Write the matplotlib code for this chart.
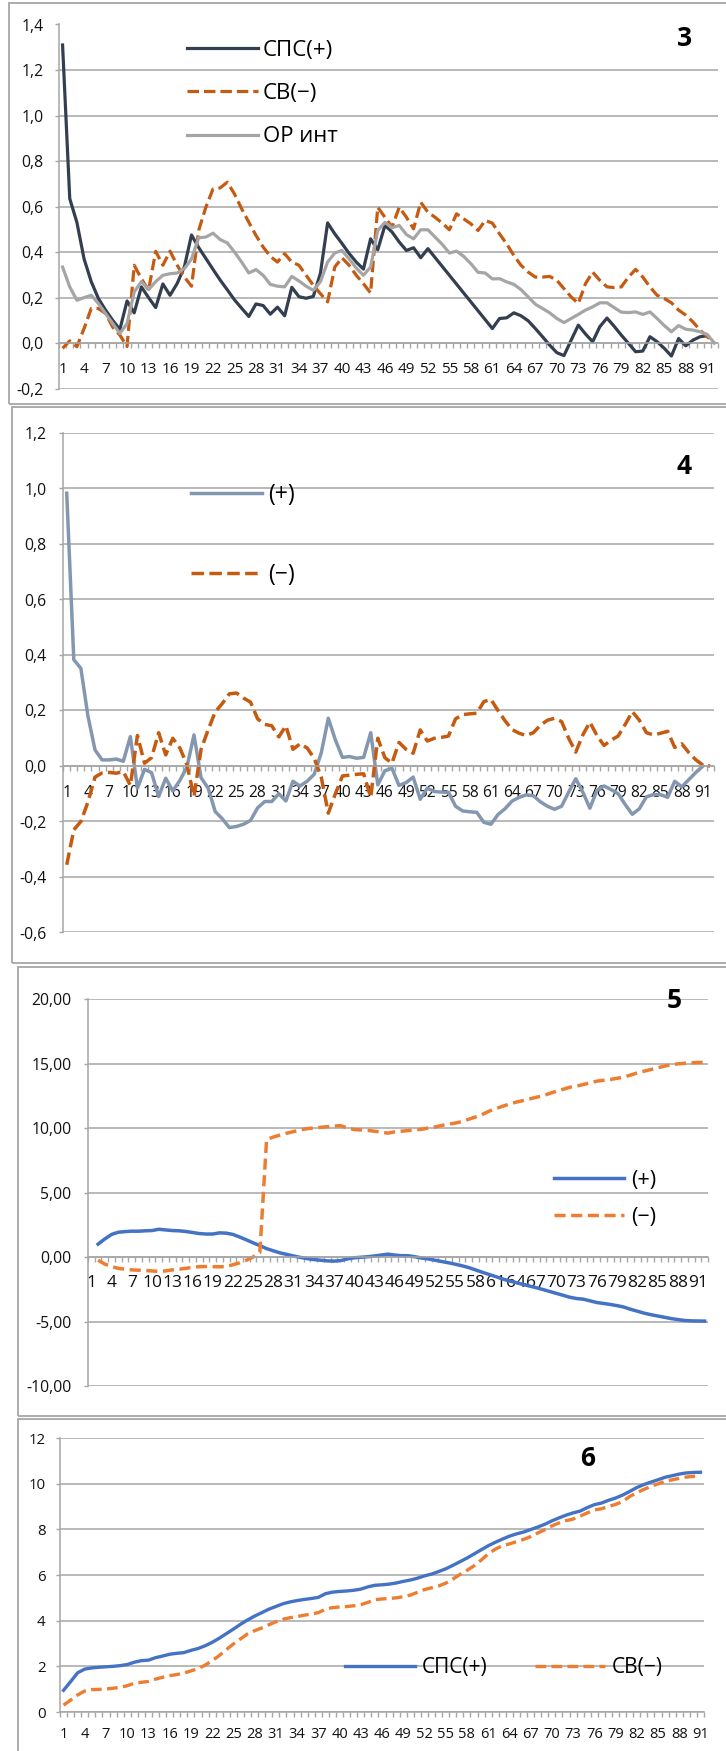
import matplotlib
matplotlib.use('Agg')
import matplotlib.pyplot as plt
import numpy as np
from matplotlib.patches import Rectangle
from matplotlib.ticker import FuncFormatter

plt.rcParams['font.family'] = ['Open Sans', 'DejaVu Sans']

nan = np.nan

# ---- chart 3 (92 days) ----
p3_sps = [1.31, 0.635, 0.53, 0.37, 0.27, 0.196, 0.145, 0.10, 0.06, 0.185,
          0.133, 0.247, 0.20, 0.156, 0.26, 0.21, 0.262, 0.335, 0.475, 0.42,
          0.372, 0.324, 0.277, 0.234, 0.19, 0.153, 0.117, 0.172, 0.165, 0.127,
          0.158, 0.12, 0.245, 0.204, 0.197, 0.205, 0.307, 0.528, 0.48, 0.438,
          0.394, 0.356, 0.325, 0.458, 0.41, 0.517, 0.488, 0.444, 0.407, 0.419,
          0.375, 0.415, 0.376, 0.337, 0.298, 0.259, 0.22, 0.181, 0.142, 0.103,
          0.064, 0.108, 0.111, 0.133, 0.12, 0.098, 0.064, 0.028, -0.009, -0.042,
          -0.055, 0.013, 0.079, 0.04, 0.006, 0.072, 0.11, 0.074, 0.035, -0.001,
          -0.038, -0.035, 0.028, 0.006, -0.023, -0.057, 0.02, -0.012, 0.013, 0.028,
          0.032, nan]
p3_sv = [-0.023, 0.01, -0.016, 0.064, 0.152, 0.152, 0.13, 0.07, 0.035, -0.015,
         0.342, 0.283, 0.232, 0.403, 0.342, 0.404, 0.342, 0.29, 0.25, 0.495,
         0.597, 0.677, 0.682, 0.707, 0.655, 0.59, 0.531, 0.473, 0.422, 0.381,
         0.356, 0.393, 0.356, 0.342, 0.298, 0.254, 0.217, 0.181, 0.334, 0.375,
         0.342, 0.298, 0.261, 0.22, 0.597, 0.553, 0.51, 0.597, 0.553, 0.502,
         0.619, 0.575, 0.553, 0.527, 0.498, 0.568, 0.546, 0.524, 0.495, 0.539,
         0.527, 0.48, 0.436, 0.385, 0.342, 0.312, 0.29, 0.29, 0.293, 0.276,
         0.239, 0.203, 0.174, 0.261, 0.312, 0.276, 0.247, 0.244, 0.247, 0.29,
         0.324, 0.29, 0.247, 0.21, 0.196, 0.177, 0.145, 0.123, 0.093, 0.057,
         0.028, 0.0]
p3_or = [0.334, 0.247, 0.188, 0.2, 0.21, 0.174, 0.13, 0.086, 0.042, 0.086,
         0.225, 0.27, 0.235, 0.27, 0.298, 0.305, 0.308, 0.327, 0.37, 0.463,
         0.466, 0.483, 0.455, 0.44, 0.4, 0.356, 0.308, 0.323, 0.298, 0.258,
         0.25, 0.247, 0.293, 0.273, 0.25, 0.232, 0.27, 0.356, 0.396, 0.407,
         0.37, 0.33, 0.298, 0.334, 0.495, 0.53, 0.507, 0.517, 0.477, 0.458,
         0.498, 0.498, 0.466, 0.434, 0.396, 0.404, 0.381, 0.349, 0.311, 0.308,
         0.282, 0.283, 0.269, 0.258, 0.235, 0.203, 0.171, 0.152, 0.133, 0.108,
         0.09, 0.108, 0.126, 0.145, 0.159, 0.177, 0.177, 0.156, 0.136, 0.134,
         0.137, 0.126, 0.137, 0.108, 0.077, 0.05, 0.077, 0.061, 0.057, 0.05,
         0.038, 0.0]

# ---- chart 4 (92 days) ----
p4_plus = [0.983, 0.383, 0.352, 0.18, 0.058, 0.022, 0.022, 0.025, 0.017, 0.106,
           -0.08, -0.012, -0.024, -0.11, -0.044, -0.09, -0.052, -0.004, 0.112, -0.042,
           -0.08, -0.164, -0.19, -0.222, -0.218, -0.21, -0.196, -0.151, -0.128, -0.128,
           -0.1, -0.126, -0.055, -0.072, -0.055, -0.03, 0.047, 0.172, 0.094, 0.031,
           0.034, 0.028, 0.031, 0.12, -0.068, -0.017, -0.008, -0.07, -0.06, -0.04,
           -0.12, -0.08, -0.092, -0.094, -0.095, -0.145, -0.162, -0.165, -0.167, -0.203,
           -0.21, -0.175, -0.154, -0.126, -0.113, -0.104, -0.107, -0.129, -0.145, -0.156,
           -0.145, -0.094, -0.046, -0.094, -0.152, -0.088, -0.072, -0.085, -0.1, -0.139,
           -0.174, -0.154, -0.111, -0.103, -0.103, -0.113, -0.055, -0.075, -0.049, -0.023,
           0.0, nan]
p4_minus = [-0.356, -0.23, -0.2, -0.13, -0.04, -0.025, -0.023, -0.026, -0.02, -0.07,
            0.11, 0.01, 0.03, 0.12, 0.04, 0.1, 0.065, 0.005, -0.11, 0.06,
            0.13, 0.195, 0.225, 0.26, 0.263, 0.245, 0.23, 0.17, 0.15, 0.145,
            0.105, 0.145, 0.06, 0.08, 0.065, 0.028, -0.04, -0.17, -0.1, -0.036,
            -0.033, -0.03, -0.028, -0.113, 0.1, 0.03, 0.01, 0.085, 0.06, 0.046,
            0.13, 0.09, 0.1, 0.103, 0.108, 0.17, 0.185, 0.188, 0.19, 0.232,
            0.24, 0.2, 0.163, 0.131, 0.118, 0.11, 0.12, 0.147, 0.165, 0.172,
            0.16, 0.1, 0.05, 0.112, 0.158, 0.11, 0.074, 0.093, 0.108, 0.15,
            0.196, 0.165, 0.12, 0.112, 0.118, 0.125, 0.067, 0.08, 0.048, 0.022,
            0.003, 0.0]

# ---- chart 5 (92 days, first day empty) ----
p5_plus = [nan, 1.0, 1.4, 1.75, 1.92, 1.97, 2.0, 2.0, 2.03, 2.05,
           2.15, 2.1, 2.05, 2.03, 1.98, 1.9, 1.82, 1.78, 1.78, 1.87,
           1.85, 1.75, 1.55, 1.33, 1.1, 0.88, 0.65, 0.48, 0.32, 0.2,
           0.08, -0.03, -0.12, -0.2, -0.25, -0.3, -0.32, -0.28, -0.15, -0.06,
           -0.02, 0.02, 0.08, 0.15, 0.22, 0.15, 0.1, 0.1, 0.02, -0.08,
           -0.15, -0.25, -0.35, -0.45, -0.56, -0.68, -0.82, -1.0, -1.18, -1.35,
           -1.52, -1.7, -1.85, -1.98, -2.12, -2.25, -2.38, -2.52, -2.67, -2.82,
           -2.97, -3.12, -3.22, -3.27, -3.4, -3.53, -3.6, -3.68, -3.77, -3.88,
           -4.05, -4.2, -4.35, -4.47, -4.57, -4.67, -4.77, -4.85, -4.92, -4.95,
           -4.96, -4.97]
p5_minus = [nan, -0.25, -0.55, -0.75, -0.88, -0.95, -1.0, -1.02, -1.05, -1.08,
            -1.12, -1.08, -1.0, -0.95, -0.88, -0.8, -0.75, -0.74, -0.75, -0.76,
            -0.74, -0.6, -0.45, -0.25, 0.0, 0.35, 9.1, 9.3, 9.45, 9.6,
            9.72, 9.85, 9.95, 10.0, 10.05, 10.1, 10.15, 10.18, 10.0, 9.88,
            9.85, 9.82, 9.75, 9.68, 9.6, 9.7, 9.75, 9.8, 9.85, 9.9,
            10.0, 10.08, 10.2, 10.3, 10.38, 10.5, 10.68, 10.85, 11.05, 11.3,
            11.5, 11.68, 11.85, 12.0, 12.12, 12.25, 12.38, 12.5, 12.68, 12.85,
            13.0, 13.16, 13.25, 13.37, 13.5, 13.63, 13.7, 13.76, 13.85, 13.95,
            14.1, 14.27, 14.4, 14.53, 14.66, 14.79, 14.9, 14.97, 15.02, 15.05,
            15.08, 15.1]

# ---- chart 6 (91 days) ----
p6_sps = [0.95, 1.33, 1.72, 1.88, 1.93, 1.96, 1.98, 2.0, 2.03, 2.08,
          2.18, 2.25, 2.27, 2.38, 2.45, 2.53, 2.57, 2.6, 2.7, 2.78,
          2.9, 3.05, 3.23, 3.43, 3.63, 3.84, 4.03, 4.2, 4.35, 4.5,
          4.62, 4.74, 4.82, 4.88, 4.93, 4.97, 5.02, 5.18, 5.25, 5.28,
          5.3, 5.33, 5.38, 5.48, 5.55, 5.57, 5.6, 5.65, 5.72, 5.78,
          5.86, 5.96, 6.04, 6.15, 6.27, 6.42, 6.58, 6.74, 6.92, 7.1,
          7.28, 7.43, 7.57, 7.7, 7.8, 7.88, 7.99, 8.1, 8.22, 8.37,
          8.5, 8.62, 8.72, 8.8, 8.95, 9.08, 9.15, 9.27, 9.37, 9.5,
          9.66, 9.83, 9.96, 10.07, 10.17, 10.28, 10.35, 10.42, 10.47, 10.49,
          10.5]
p6_sv = [0.3, 0.52, 0.75, 0.92, 0.98, 0.99, 1.01, 1.04, 1.08, 1.15,
         1.26, 1.3, 1.34, 1.44, 1.52, 1.59, 1.64, 1.7, 1.8, 1.9,
         2.05, 2.25, 2.47, 2.73, 2.98, 3.2, 3.42, 3.56, 3.68, 3.82,
         3.95, 4.06, 4.13, 4.18, 4.24, 4.29, 4.35, 4.5, 4.57, 4.6,
         4.62, 4.65, 4.7, 4.8, 4.92, 4.95, 4.97, 5.0, 5.05, 5.12,
         5.24, 5.36, 5.44, 5.52, 5.64, 5.82, 6.02, 6.2, 6.4, 6.65,
         6.92, 7.13, 7.28, 7.36, 7.46, 7.56, 7.68, 7.84, 7.98, 8.15,
         8.28, 8.38, 8.45, 8.58, 8.72, 8.85, 8.9, 9.0, 9.09, 9.22,
         9.44, 9.6, 9.75, 9.88, 9.99, 10.1, 10.17, 10.23, 10.29, 10.32,
         10.35]

W, H = 726, 1751
GRID = '#A6A6A6'
TXT = '#111111'


def px_rect(l, t, r, b):
    return [l / W, 1 - b / H, (r - l) / W, (b - t) / H]


def excel_axes(ax, n, ylim, ystep, ndec, xfs, xpad, yfs, ypad):
    ax.set_xlim(0.5, n + 0.5)
    ax.set_ylim(*ylim)
    ax.set_yticks(np.arange(ylim[0], ylim[1] + ystep / 2, ystep))

    def fmt(v, pos):
        if abs(v) < 1e-9:
            v = 0.0
        return f"{v:.{ndec}f}".replace('.', ',')
    ax.yaxis.set_major_formatter(FuncFormatter(fmt))
    ax.grid(axis='y', color=GRID, lw=1.1)
    ax.set_axisbelow(True)
    ax.spines['top'].set_visible(False)
    ax.spines['right'].set_visible(False)
    ax.spines['left'].set_color(GRID)
    ax.spines['bottom'].set_color(GRID)
    ax.spines['left'].set_linewidth(1.1)
    ax.spines['bottom'].set_linewidth(1.1)
    ax.spines['bottom'].set_position(('data', 0))
    ax.set_xticks(np.arange(1, n + 1, 3))
    ax.set_xticks(np.arange(0.5, n + 1, 1), minor=True)
    ax.tick_params(axis='x', which='major', length=0, pad=xpad, labelsize=xfs, labelcolor=TXT)
    ax.tick_params(axis='x', which='minor', length=3.6, width=1, color=GRID, direction='out')
    ax.tick_params(axis='y', length=2.9, width=1, color=GRID, pad=ypad, labelsize=yfs, labelcolor=TXT)


def panel_box(l, t, r, b):
    fig.add_artist(Rectangle((l / W, 1 - b / H), (r - l) / W, (b - t) / H,
                             transform=fig.transFigure, fill=False, ec=GRID, lw=1.3))


def legend_at(ax, x, y, fs, **kw):
    return ax.legend(loc='upper left', bbox_to_anchor=(x / W, 1 - y / H),
                     bbox_transform=fig.transFigure, frameon=False, fontsize=fs,
                     borderpad=0, borderaxespad=0, **kw)


fig = plt.figure(figsize=(W / 100, H / 100), dpi=100)

panel_box(9, 3, 760, 404)
panel_box(12, 407, 760, 963)
panel_box(18, 967, 760, 1416)
panel_box(18, 1419, 760, 1780)

# chart 3
ax3 = fig.add_axes(px_rect(59, 24.5, 718, 388.6))
x3 = np.arange(1, len(p3_sps) + 1)
ax3.plot(x3, p3_sps, color='#333F50', lw=2.3, label='СПС(+)')
ax3.plot(x3, p3_sv, color='#C55A11', lw=2.3, ls=(0, (3.6, 1.55)), label='СВ(−)')
ax3.plot(x3, p3_or, color='#A5A5A5', lw=2.3, label='ОР инт')
excel_axes(ax3, len(x3), (-0.2, 1.4), 0.2, 1, 11.0, 13.5, 11.3, 8.0)
legend_at(ax3, 187, 40, 16, handlelength=3.2, handletextpad=0.2, labelspacing=1.0)
fig.text(684 / W, 1 - 38 / H, '3', ha='center', va='center', fontsize=19, fontweight='bold')

# chart 4
ax4 = fig.add_axes(px_rect(63.2, 433, 713.6, 932.5))
x4 = np.arange(1, len(p4_plus) + 1)
ax4.plot(x4, p4_plus, color='#8497B0', lw=2.5, label='(+)')
ax4.plot(x4, p4_minus, color='#C55A11', lw=2.5, ls=(0, (3.6, 1.55)), label='(−)')
excel_axes(ax4, len(x4), (-0.6, 1.2), 0.2, 1, 11.2, 14, 11.3, 9.0)
legend_at(ax4, 191, 483, 16.5, handlelength=3.1, handletextpad=0.26, labelspacing=2.45)
fig.text(684 / W, 1 - 467 / H, '4', ha='center', va='center', fontsize=19, fontweight='bold')

# chart 5
ax5 = fig.add_axes(px_rect(88, 999, 708, 1386))
x5 = np.arange(1, len(p5_plus) + 1)
ax5.plot(x5, p5_plus, color='#4472C4', lw=2.5, label='(+)')
ax5.plot(x5, p5_minus, color='#ED7D31', lw=2.5, ls=(0, (3.2, 1.6)), label='(−)')
excel_axes(ax5, len(x5), (-10, 20), 5, 2, 12.5, 13, 11.3, 9)
legend_at(ax5, 554, 1170, 15.5, handlelength=3.26, handletextpad=0.33, labelspacing=0.72)
fig.text(674 / W, 1 - 1000 / H, '5', ha='center', va='center', fontsize=19, fontweight='bold')

# chart 6
ax6 = fig.add_axes(px_rect(60, 1438, 704, 1712))
x6 = np.arange(1, len(p6_sps) + 1)
ax6.plot(x6, p6_sps, color='#4472C4', lw=2.4, label='СПС(+)')
ax6.plot(x6, p6_sv, color='#ED7D31', lw=2.4, ls=(0, (3.2, 1.6)), label='СВ(−)')
excel_axes(ax6, len(x6), (0, 12), 2, 0, 10.5, 11, 10.8, 7.5)
legend_at(ax6, 345, 1657, 15, ncol=2, handlelength=3.35, handletextpad=0.34, columnspacing=2.28)
fig.text(588 / W, 1 - 1458 / H, '6', ha='center', va='center', fontsize=19, fontweight='bold')

fig.savefig('out.png', dpi=100)
